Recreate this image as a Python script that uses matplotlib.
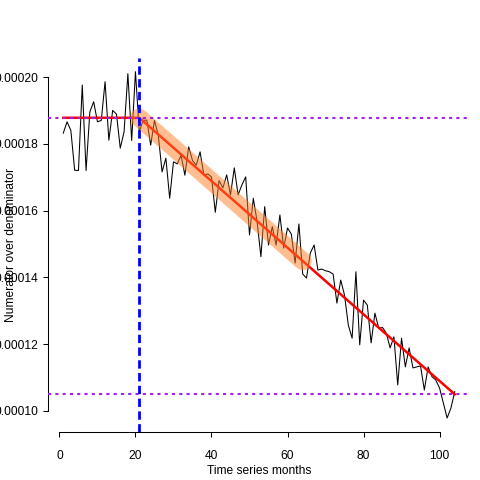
import numpy as np
import matplotlib.pyplot as plt

plt.rcParams['font.family'] = ['Liberation Sans', 'DejaVu Sans']

# monthly series (numerator / denominator)
months = list(range(1, 105))
ratio = [
    0.0001832, 0.0001866, 0.0001840, 0.0001721, 0.0001720, 0.0001976, 0.0001720, 0.0001896,
    0.0001926, 0.0001866, 0.0001870, 0.0001986, 0.0001811, 0.0001900, 0.0001889, 0.0001787,
    0.0001836, 0.0002010, 0.0001810, 0.0002016, 0.0001836, 0.0001870, 0.0001871, 0.0001796,
    0.0001870, 0.0001826, 0.0001716, 0.0001757, 0.0001637, 0.0001746, 0.0001740, 0.0001766,
    0.0001706, 0.0001791, 0.0001750, 0.0001736, 0.0001776, 0.0001706, 0.0001710, 0.0001701,
    0.0001595, 0.0001690, 0.0001668, 0.0001707, 0.0001647, 0.0001728, 0.0001647, 0.0001677,
    0.0001701, 0.0001527, 0.0001637, 0.0001567, 0.0001462, 0.0001612, 0.0001497, 0.0001552,
    0.0001497, 0.0001587, 0.0001488, 0.0001548, 0.0001530, 0.0001443, 0.0001560, 0.0001410,
    0.0001398, 0.0001473, 0.0001497, 0.0001422, 0.0001425, 0.0001420, 0.0001417, 0.0001410,
    0.0001323, 0.0001392, 0.0001347, 0.0001257, 0.0001218, 0.0001417, 0.0001198, 0.0001332,
    0.0001317, 0.0001204, 0.0001293, 0.0001248, 0.0001250, 0.0001233, 0.0001189, 0.0001222,
    0.0001078, 0.0001218, 0.0001132, 0.0001189, 0.0001129, 0.0001132, 0.0001135, 0.0001063,
    0.0001132, 0.0001103, 0.0001093, 0.0001069, 0.0001024, 0.0000979, 0.0001009, 0.0001058,
]

# fitted segmented trend
fit_x = [1, 21, 104]
fit_y = [0.0001878, 0.0001878, 0.0001050]
# highlighted part of the trend
band_x = [21, 64]
# reference lines
break_month = 21
level_hi = 0.0001878
level_lo = 0.0001051

x_ticks = [0, 20, 40, 60, 80, 100]
y_ticks = [0.00010, 0.00012, 0.00014, 0.00016, 0.00018, 0.00020]

fig = plt.figure(figsize=(4.8, 4.8), dpi=100)
ax = fig.add_axes([47.6 / 480, 48.3 / 480, 422.8 / 480, 373.7 / 480])

ax.plot(months, ratio, color='black', lw=0.75, zorder=2)
ax.plot(fit_x, fit_y, color='#FF0000', lw=1.8, zorder=3)

bx = np.array(band_x, dtype=float)
by = np.interp(bx, fit_x, fit_y)
ax.plot(bx, by, color='#FF7F24', alpha=0.5, lw=13, solid_capstyle='round', zorder=4)

ax.axhline(level_hi, color='#A020F0', lw=1.5, dashes=(1.5, 2.0), zorder=5)
ax.axhline(level_lo, color='#A020F0', lw=1.5, dashes=(1.5, 2.0), zorder=5)
ax.axvline(break_month, color='#0000FF', lw=2, dashes=(3, 1.6), zorder=5)

ax.set_xlim(-3.12, 108.12)
ax.set_ylim(0.0000938, 0.0002057)
ax.set_xticks(x_ticks)
ax.set_yticks(y_ticks)
ax.set_yticklabels([f'{v:.5f}' for v in y_ticks])
ax.tick_params(labelsize=8.64, length=3.5, width=0.75, direction='out')
ax.tick_params(axis='x', pad=9.5)
ax.tick_params(axis='y', pad=3)

for side in ['top', 'right']:
    ax.spines[side].set_visible(False)
ax.spines['left'].set_bounds(y_ticks[0], y_ticks[-1])
ax.spines['bottom'].set_bounds(x_ticks[0], x_ticks[-1])
ax.spines['left'].set_linewidth(0.75)
ax.spines['bottom'].set_linewidth(0.75)

ax.set_xlabel('Time series months', fontsize=8.64, labelpad=2)
fig.text(11 / 480, 0.49, 'Numerator over denominator', rotation=90,
         fontsize=8.64, ha='center', va='center')

fig.savefig('out.png', dpi=100)
